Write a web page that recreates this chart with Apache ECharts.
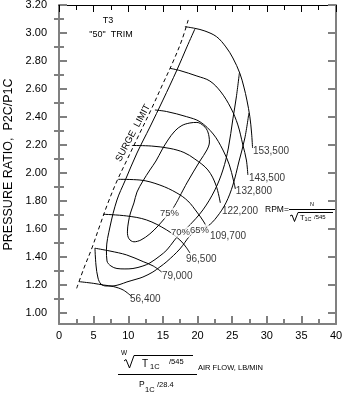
<!DOCTYPE html>
<html><head><meta charset="utf-8">
<script src="https://cdn.jsdelivr.net/npm/echarts@6/dist/echarts.min.js"></script>
<style>html,body{margin:0;padding:0;background:#fff}#c{width:344px;height:399px}</style>
</head><body><div id="c"></div>
<script>
// ---- tick labels ----
const xMin = 0, xMax = 40, xInterval = 5;
const yMin = 0.918, yMax = 3.2;
const yMajorTicks = [1.0,1.2,1.4,1.6,1.8,2.0,2.2,2.4,2.6,2.8,3.0,3.2];
const yMinorTicks = [1.1,1.3,1.5,1.7,1.9,2.1,2.3,2.5,2.7,2.9,3.1];

// ---- surge limit (dashed) ----
const surgeLimit = [[2.55,1.173],[3.61,1.319],[4.76,1.462],[5.92,1.626],[7.07,1.784],[8.37,1.941],[9.81,2.091],[11.40,2.256],[13.28,2.449],[14.86,2.621],[16.45,2.792],[17.75,2.950],[18.66,3.093]];

// ---- constant speed lines ----
const rpm153500 = [[18.18,3.045],[19.62,3.033],[21.07,3.014],[22.76,2.973],[24.10,2.900],[25.11,2.821],[26.12,2.711],[26.70,2.613],[27.13,2.520],[27.56,2.401],[27.81,2.284],[27.95,2.177]];
const rpm143500 = [[16.02,2.747],[17.46,2.731],[19.91,2.692],[21.79,2.656],[23.38,2.578],[24.82,2.463],[25.83,2.342],[26.55,2.199],[27.06,2.091],[27.27,1.984]];
const rpm132800 = [[13.85,2.449],[15.54,2.438],[18.43,2.401],[20.35,2.365],[22.27,2.277],[23.67,2.163],[24.60,2.056],[25.18,1.948],[25.47,1.884]];
const rpm122200 = [[10.53,2.195],[13.38,2.191],[16.02,2.174],[18.04,2.145],[19.62,2.098],[21.50,2.020],[22.66,1.912],[23.30,1.784]];
const rpm109700 = [[8.56,1.953],[11.69,1.948],[14.57,1.912],[17.03,1.855],[18.61,1.798],[19.91,1.719],[20.92,1.648],[21.50,1.591]];
const rpm96500  = [[6.39,1.703],[9.77,1.691],[12.66,1.662],[15.54,1.591],[17.46,1.519],[18.33,1.469],[18.90,1.426]];
const rpm79000  = [[5.19,1.460],[7.36,1.440],[9.77,1.412],[12.16,1.364],[13.61,1.333],[14.82,1.290]];
const rpm56400  = [[2.89,1.221],[4.95,1.209],[6.39,1.197],[7.84,1.186],[9.28,1.161],[10.49,1.115]];

// ---- efficiency contours ----
const eff75 = [[17.17,1.805],[18.47,1.927],[20.35,2.084],[21.36,2.163],[21.72,2.220],[21.50,2.292],[20.92,2.334],[19.91,2.360],[18.90,2.356],[17.75,2.338],[16.74,2.299],[15.73,2.234],[14.86,2.163],[14.00,2.084],[13.13,2.020],[12.12,1.941],[11.26,1.862],[10.82,1.784],[10.32,1.712],[10.03,1.648],[9.88,1.577],[10.10,1.528],[10.82,1.506],[11.83,1.519],[13.13,1.563],[14.29,1.619],[15.30,1.676],[16.31,1.734],[17.17,1.805]];
const eff70 = [[19.62,3.028],[18.47,2.900],[17.03,2.735],[15.01,2.520],[13.13,2.327],[11.26,2.141],[9.52,1.941],[8.37,1.805],[7.36,1.612],[6.85,1.448],[6.93,1.369],[7.50,1.333],[8.37,1.315],[9.52,1.312],[10.68,1.315],[12.12,1.333],[13.13,1.355],[14.57,1.405],[15.58,1.448],[16.59,1.512],[17.46,1.563],[18.61,1.612],[20.78,1.734],[22.51,1.877],[23.67,2.020],[24.46,2.177],[25.11,2.385],[25.61,2.542],[26.05,2.714]];
const eff65 = [[5.19,1.462],[5.34,1.340],[5.63,1.247],[6.06,1.204],[6.78,1.190],[7.65,1.190],[8.80,1.201],[9.81,1.219],[11.26,1.240],[12.12,1.254],[13.56,1.290],[14.57,1.326],[15.58,1.365],[17.46,1.455],[18.90,1.548],[20.20,1.598],[21.50,1.619],[22.80,1.684],[24.10,1.784],[25.11,1.912],[25.97,2.077],[26.84,2.249],[27.42,2.427]];

// ---- labels ----
const speedLabels = ['153,500','143,500','132,800','122,200','109,700','96,500','79,000','56,400'];
const speedLabelPos = [[28.0,2.156],[27.42,1.963],[25.54,1.870],[23.52,1.726],[21.79,1.548],[18.33,1.383],[14.86,1.262],[10.25,1.097]];
const effLabels = ['75%','70%','65%'];
const effLabelPos = [[14.57,1.712],[16.16,1.576],[18.90,1.591]];

const FONT = "'Liberation Sans', Arial, Helvetica, sans-serif";
const GRAY = '#808080';

function lineSeries(data, dashed){
  return {type:'line', data:data, showSymbol:false, symbol:'none', smooth:0.35, silent:true,
    lineStyle:{color:'#000', width:1, type: dashed ? [4,3] : 'solid'}, z:2, animation:false};
}

const chart = echarts.init(document.getElementById('c'), null, {renderer:'canvas'});

const yBase = {type:'value', min:yMin, max:yMax, splitLine:{show:false}};
const option = {
  animation:false,
  backgroundColor:'#fff',
  grid:{left:59, right:8, top:5, bottom:75, containLabel:false, outerBoundsMode:'none'},
  xAxis:[
    {type:'value', position:'bottom', min:xMin, max:xMax, interval:xInterval,
     axisLine:{show:true, onZero:false, lineStyle:{color:GRAY, width:2}},
     axisTick:{show:true, inside:true, length:8, lineStyle:{color:GRAY, width:2}},
     minorTick:{show:true, splitNumber:2, length:5, lineStyle:{color:GRAY, width:2}},
     axisLabel:{show:true, fontSize:11, color:'#000', margin:6, fontFamily:FONT},
     splitLine:{show:false}},
    {type:'value', position:'top', min:xMin, max:xMax, interval:xInterval,
     axisLine:{show:true, onZero:false, lineStyle:{color:'#000', width:1}},
     axisTick:{show:true, inside:true, length:7, lineStyle:{color:'#000', width:1}},
     minorTick:{show:true, splitNumber:2, length:5, lineStyle:{color:'#000', width:1}},
     axisLabel:{show:false}, splitLine:{show:false}}
  ],
  yAxis:[
    Object.assign({}, yBase, {position:'left',
     axisLine:{show:true, onZero:false, lineStyle:{color:GRAY, width:2}},
     axisTick:{show:true, inside:true, length:8, customValues:yMajorTicks, lineStyle:{color:GRAY, width:2}},
     axisLabel:{show:true, customValues:yMajorTicks, formatter:v=>v.toFixed(2), fontSize:11, color:'#000', margin:12, fontFamily:FONT},
     name:'PRESSURE RATIO,  P2C/P1C', nameLocation:'middle', nameGap:42, nameRotate:90,
     nameTextStyle:{fontSize:12.5, color:'#000', fontFamily:FONT}}),
    Object.assign({}, yBase, {position:'left',
     axisLine:{show:false},
     axisTick:{show:true, inside:true, length:5, customValues:yMinorTicks, lineStyle:{color:GRAY, width:2}},
     axisLabel:{show:false}}),
    Object.assign({}, yBase, {position:'right',
     axisLine:{show:true, onZero:false, lineStyle:{color:GRAY, width:2}},
     axisTick:{show:true, inside:true, length:8, customValues:yMajorTicks, lineStyle:{color:GRAY, width:2}},
     axisLabel:{show:false}}),
    Object.assign({}, yBase, {position:'right',
     axisLine:{show:false},
     axisTick:{show:true, inside:true, length:5, customValues:yMinorTicks, lineStyle:{color:GRAY, width:2}},
     axisLabel:{show:false}})
  ],
  series:[
    lineSeries(surgeLimit, true),
    lineSeries(rpm153500), lineSeries(rpm143500), lineSeries(rpm132800), lineSeries(rpm122200),
    lineSeries(rpm109700), lineSeries(rpm96500), lineSeries(rpm79000), lineSeries(rpm56400),
    lineSeries(eff75), lineSeries(eff70), lineSeries(eff65),
    {type:'scatter', symbolSize:0, silent:true, z:5, animation:false,
     data: speedLabels.map((t,i)=>({name:t, value:speedLabelPos[i]})),
     label:{show:true, position:'right', distance:0, formatter:'{b}', fontSize:10, color:'#000', fontFamily:FONT}},
    {type:'scatter', symbolSize:0, silent:true, z:6, animation:false,
     data: effLabels.map((t,i)=>({name:t, value:effLabelPos[i]})),
     label:{show:true, position:'right', distance:0, formatter:'{b}', fontSize:9.5, color:'#000', fontFamily:FONT,
            backgroundColor:'#fff', padding:[1,0,0,0]}}
  ],
  graphic:[
    {type:'text', x:108, y:21, style:{text:'T3', fontSize:9, fontFamily:FONT, fill:'#000', align:'center', verticalAlign:'middle'}},
    {type:'text', x:111, y:35, style:{text:'"50"  TRIM', fontSize:9, fontFamily:FONT, fill:'#000', align:'center', verticalAlign:'middle'}},
    {type:'text', x:133, y:133, rotation:62*Math.PI/180, style:{text:'SURGE  LIMIT', fontSize:9.5, fontFamily:FONT, fill:'#000', align:'center', verticalAlign:'middle'}},
    // x-axis formula
    {type:'text', x:124, y:353, style:{text:'W', fontSize:6.5, fontFamily:FONT, fill:'#000', align:'center', verticalAlign:'middle'}},
    {type:'polyline', shape:{points:[[124,361],[126,359.5],[129.5,368],[134,355.5],[193,355.5]]}, style:{stroke:'#000', lineWidth:1, fill:null}},
    {type:'text', x:142, y:364, style:{text:'T', fontSize:10, fontFamily:FONT, fill:'#000', align:'left', verticalAlign:'middle'}},
    {type:'text', x:150, y:367, style:{text:'1C', fontSize:7.5, fontFamily:FONT, fill:'#000', align:'left', verticalAlign:'middle'}},
    {type:'text', x:169, y:361.5, style:{text:'/545', fontSize:7.5, fontFamily:FONT, fill:'#000', align:'left', verticalAlign:'middle'}},
    {type:'line', shape:{x1:118, y1:374.5, x2:197, y2:374.5}, style:{stroke:'#000', lineWidth:1}},
    {type:'text', x:139, y:385, style:{text:'P', fontSize:8.5, fontFamily:FONT, fill:'#000', align:'left', verticalAlign:'middle'}},
    {type:'text', x:145, y:390, style:{text:'1C', fontSize:7.5, fontFamily:FONT, fill:'#000', align:'left', verticalAlign:'middle'}},
    {type:'text', x:157, y:385, style:{text:'/28.4', fontSize:7.5, fontFamily:FONT, fill:'#000', align:'left', verticalAlign:'middle'}},
    {type:'text', x:198, y:368, style:{text:'AIR FLOW, LB/MIN', fontSize:7.5, fontFamily:FONT, fill:'#000', align:'left', verticalAlign:'middle'}},
    // RPM formula
    {type:'text', x:265, y:210, style:{text:'RPM=', fontSize:8.5, fontFamily:FONT, fill:'#000', align:'left', verticalAlign:'middle'}},
    {type:'line', shape:{x1:289, y1:209.5, x2:335, y2:209.5}, style:{stroke:'#000', lineWidth:1}},
    {type:'text', x:312, y:204, style:{text:'N', fontSize:5.5, fontFamily:FONT, fill:'#000', align:'center', verticalAlign:'middle'}},
    {type:'polyline', shape:{points:[[290,216],[292,215],[294.5,221.5],[298,212.5],[333,212.5]]}, style:{stroke:'#000', lineWidth:1, fill:null}},
    {type:'text', x:300, y:217.5, style:{text:'T', fontSize:7.5, fontFamily:FONT, fill:'#000', align:'left', verticalAlign:'middle'}},
    {type:'text', x:304.5, y:219.5, style:{text:'1C', fontSize:5.5, fontFamily:FONT, fill:'#000', align:'left', verticalAlign:'middle'}},
    {type:'text', x:314, y:217, style:{text:'/545', fontSize:6, fontFamily:FONT, fill:'#000', align:'left', verticalAlign:'middle'}}
  ]
};
chart.setOption(option);
</script></body></html>
